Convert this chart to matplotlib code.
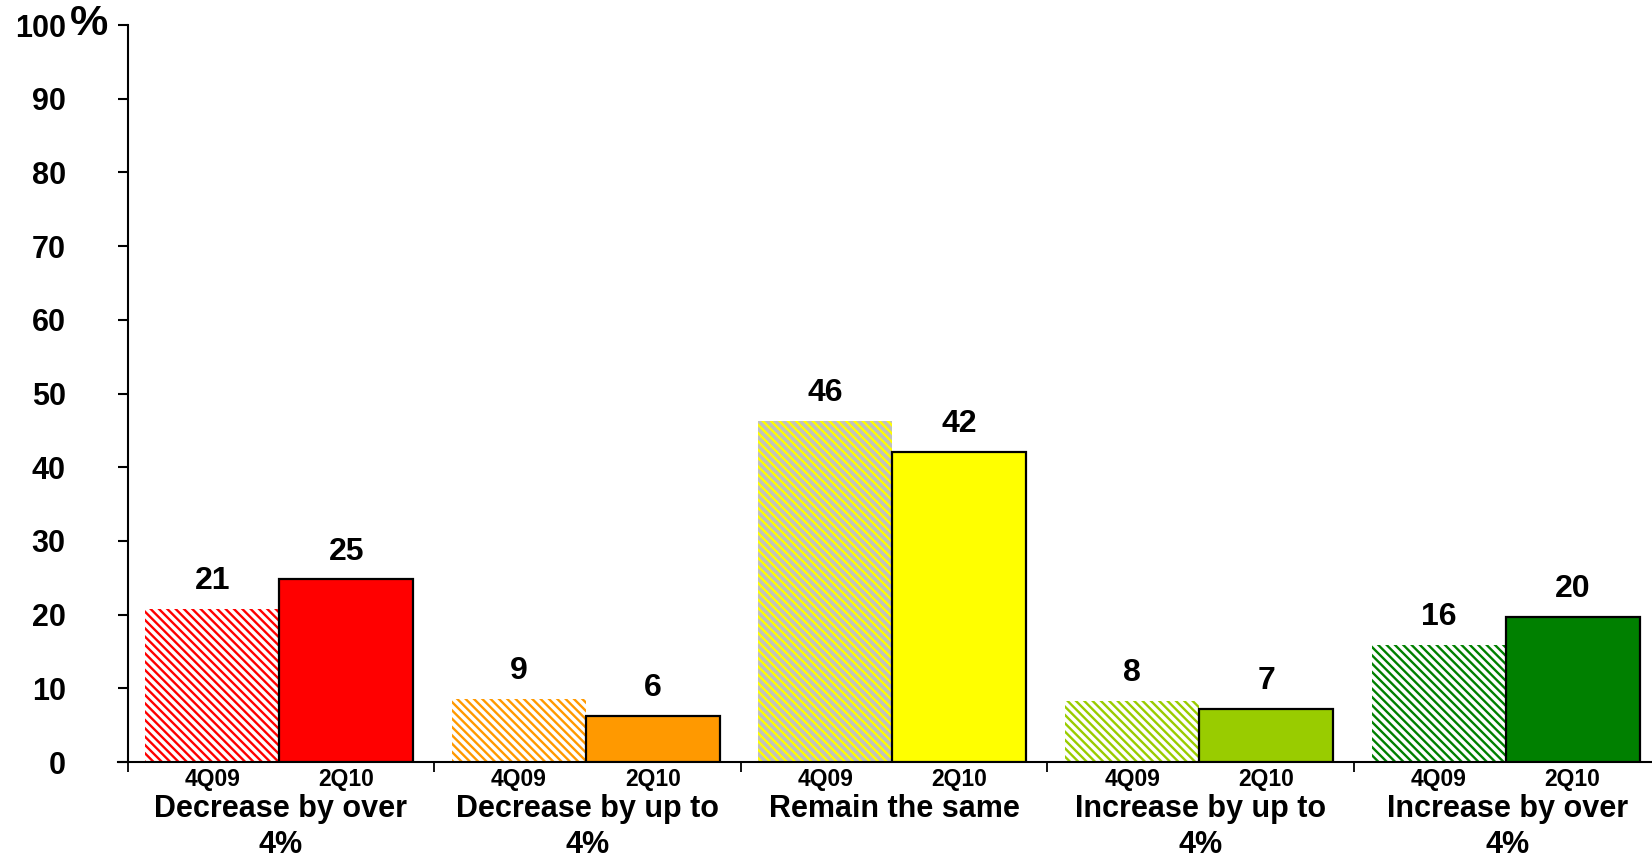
import matplotlib
matplotlib.use("Agg")
import matplotlib.pyplot as plt
import numpy as np

plt.rcParams['font.family'] = ['Liberation Sans', 'DejaVu Sans']
plt.rcParams['font.weight'] = 'bold'
plt.rcParams['hatch.linewidth'] = 1.7

categories = ["Decrease by over\n4%", "Decrease by up to\n4%", "Remain the same",
              "Increase by up to\n4%", "Increase by over\n4%"]
periods = ["4Q09", "2Q10"]
values_4q09 = [20.8, 8.6, 46.3, 8.3, 15.9]
values_2q10 = [24.8, 6.3, 42.1, 7.2, 19.7]
labels_4q09 = ["21", "9", "46", "8", "16"]
labels_2q10 = ["25", "6", "42", "7", "20"]
colors = ["#FF0000", "#FF9900", "#FFFF00", "#99CC00", "#008000"]
hatch_bg = ["white", "white", "#C0C0C0", "white", "white"]
yticks = [0, 10, 20, 30, 40, 50, 60, 70, 80, 90, 100]

fig = plt.figure(figsize=(16.52, 8.58), dpi=100)
ax = fig.add_axes([127.5 / 1652, 1 - 762 / 858, 1533 / 1652, (762 - 25) / 858])

width = 0.437
offset = 0.058
x = np.arange(len(categories))

for i in range(len(categories)):
    ax.bar(x[i] + offset, values_4q09[i], width=width, align='edge',
           facecolor=hatch_bg[i], edgecolor=colors[i], linewidth=0,
           hatch='\\\\\\\\', zorder=2)
    ax.bar(x[i] + offset + width, values_2q10[i], width=width, align='edge',
           facecolor=colors[i], edgecolor='black', linewidth=1.6, zorder=3)
    ax.annotate(labels_4q09[i], (x[i] + offset + width / 2, values_4q09[i]),
                xytext=(0, 9), textcoords='offset points', ha='center', va='bottom',
                fontsize=23, fontweight='bold')
    ax.annotate(labels_2q10[i], (x[i] + offset + 1.5 * width, values_2q10[i]),
                xytext=(0, 9), textcoords='offset points', ha='center', va='bottom',
                fontsize=23, fontweight='bold')
    for j, p in enumerate(periods):
        ax.annotate(p, (x[i] + offset + (j + 0.5) * width, 0), xytext=(0, -4),
                    textcoords='offset points', ha='center', va='top',
                    fontsize=16.5, fontweight='bold')
    ax.annotate(categories[i], (x[i] + 0.5, 0), xytext=(0, -23),
                textcoords='offset points', ha='center', va='top',
                fontsize=22, fontweight='bold', linespacing=1.25)

ax.set_xlim(0, 5)
ax.set_ylim(0, 100)
ax.set_yticks(yticks)
ax.set_yticklabels([str(v) for v in yticks], fontsize=22, fontweight='bold')
ax.set_xticks(np.arange(0, 6))
ax.set_xticklabels([])
ax.tick_params(axis='y', length=7.5, width=1.5, pad=37, direction='out')
ax.tick_params(axis='x', length=7, width=1.3, direction='out')
ax.spines['top'].set_visible(False)
ax.spines['right'].set_visible(False)
ax.spines['left'].set_linewidth(1.5)
ax.spines['bottom'].set_linewidth(1.5)
ax.spines['bottom'].set_bounds(-0.03, 5)

fig.text(70 / 1652, 1 - 24 / 858, "%", fontsize=31, fontweight='bold',
         ha='left', va='center')

fig.savefig("out.png", dpi=100)
